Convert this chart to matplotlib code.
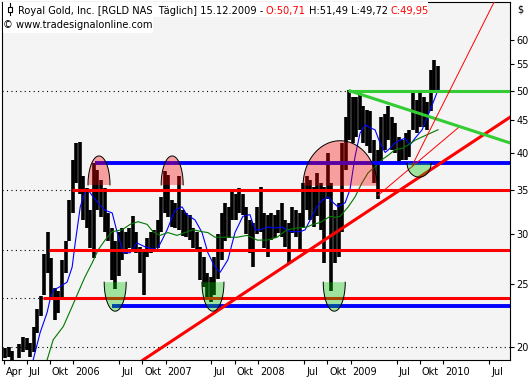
import numpy as np
import pandas as pd
import matplotlib
matplotlib.use('Agg')
import matplotlib.pyplot as plt
import matplotlib.dates as mdates
import matplotlib.transforms as mtransforms
from matplotlib.patches import Polygon, Rectangle
from matplotlib.lines import Line2D

# price bars, one bar per two weeks (high / low)
bar_dates = pd.date_range('2005-04-08', periods=123, freq='14D')
highs = [19.9, 20.0, 19.7, 19.1, 20.2, 20.7, 20.6, 20.3, 21.5, 22.9,
         24.0, 27.9, 30.2, 27.5, 24.7, 24.4, 27.3, 29.2, 33.8, 39.1,
         41.5, 41.7, 36.8, 35.3, 32.6, 38.6, 37.7, 36.4, 35.3, 32.3,
         30.6, 29.2, 30.2, 30.6, 30.2, 30.6, 31.9, 30.2, 28.6, 28.3,
         29.5, 30.2, 30.4, 31.5, 34.2, 37.5, 37.0, 33.8, 33.5, 36.8,
         32.6, 32.3, 32.0, 30.6, 30.2, 28.6, 27.6, 26.0, 25.7, 27.6,
         30.0, 32.3, 33.5, 33.0, 34.9, 34.5, 35.3, 34.5, 33.0, 31.5,
         31.1, 33.0, 35.4, 32.3, 32.0, 32.3, 32.0, 32.6, 33.5, 31.5,
         31.2, 33.0, 32.6, 32.3, 36.0, 36.8, 36.4, 35.4, 37.3, 36.0,
         35.5, 40.0, 36.0, 32.6, 33.5, 41.5, 45.5, 50.2, 49.0, 49.0,
         49.8, 47.3, 46.7, 46.6, 42.0, 40.4, 45.5, 46.0, 47.3, 45.5,
         44.5, 42.4, 42.0, 43.0, 43.5, 49.8, 48.4, 49.8, 49.0, 48.0,
         53.9, 55.9, 54.6]
lows = [19.2, 19.3, 19.1, 18.7, 19.2, 19.6, 19.8, 19.3, 19.6, 21.0,
        22.3, 24.1, 26.0, 23.8, 22.0, 22.6, 23.8, 26.0, 29.2, 32.3,
        36.0, 34.5, 31.5, 30.6, 28.5, 27.5, 32.6, 31.8, 30.2, 29.2,
        25.4, 24.6, 25.8, 27.3, 27.9, 28.5, 28.2, 28.0, 26.0, 24.1,
        27.6, 28.0, 28.3, 28.5, 30.2, 32.3, 31.8, 30.7, 30.6, 30.4,
        29.7, 29.6, 29.3, 28.5, 28.2, 25.4, 24.8, 23.9, 23.5, 24.1,
        25.5, 27.3, 29.2, 29.5, 31.5, 31.5, 32.3, 32.0, 29.9, 28.0,
        26.6, 29.9, 30.2, 28.5, 27.6, 29.3, 29.5, 30.1, 29.6, 28.6,
        27.0, 30.1, 29.6, 28.3, 30.6, 32.6, 31.5, 30.7, 31.9, 30.4,
        27.0, 34.0, 24.4, 27.0, 27.6, 30.2, 37.7, 42.0, 41.5, 42.4,
        43.4, 41.5, 41.0, 40.0, 36.0, 34.0, 38.6, 40.5, 41.9, 40.5,
        40.0, 38.6, 39.0, 39.1, 39.5, 43.4, 43.0, 43.9, 43.9, 43.4,
        46.6, 50.2, 49.7]

# moving averages
ma_fast_dates = ['2005-07-27', '2005-08-23', '2005-09-20', '2005-10-02', '2005-10-14', '2005-11-02',
                 '2005-12-08', '2005-12-28', '2006-01-09', '2006-01-29', '2006-02-17', '2006-03-01',
                 '2006-03-21', '2006-04-17', '2006-05-07', '2006-06-04', '2006-06-24', '2006-07-18',
                 '2006-08-14', '2006-09-10', '2006-10-12', '2006-11-28', '2006-12-18', '2007-01-07',
                 '2007-02-07', '2007-03-07', '2007-03-26', '2007-04-27', '2007-05-25', '2007-06-17',
                 '2007-07-15', '2007-08-04', '2007-09-04', '2007-10-02', '2007-11-02', '2007-11-30',
                 '2007-12-20', '2008-01-08', '2008-02-09', '2008-03-08', '2008-04-05', '2008-05-07',
                 '2008-06-15', '2008-07-05', '2008-07-25', '2008-08-21', '2008-09-10', '2008-10-04',
                 '2008-10-24', '2008-11-12', '2008-12-10', '2008-12-29', '2009-01-18', '2009-02-07',
                 '2009-02-27', '2009-03-19', '2009-04-07', '2009-04-27', '2009-05-17', '2009-06-05',
                 '2009-06-25', '2009-07-15', '2009-08-03', '2009-08-23', '2009-09-12', '2009-10-10',
                 '2009-11-11', '2009-12-12']
ma_fast = [19.07, 21.0, 22.6, 23.7, 24.5, 24.7,
           25.2, 26.6, 29.0, 33.0, 34.9, 35.1,
           34.2, 33.2, 32.6, 32.3, 30.1, 28.0,
           28.0, 29.0, 28.6, 28.3, 29.3, 30.4,
           32.6, 33.0, 32.1, 31.5, 30.1, 28.0,
           26.6, 26.1, 27.3, 30.1, 31.9, 32.1,
           30.4, 30.4, 30.7, 30.6, 30.7, 30.2,
           30.2, 30.4, 31.5, 33.0, 33.8, 34.2,
           33.5, 33.0, 33.5, 35.1, 39.5, 43.0,
           44.3, 43.8, 43.5, 41.5, 40.1, 40.7,
           41.5, 41.9, 42.2, 41.2, 42.2, 43.5,
           46.7, 50.2]
ma_slow_dates = ['2005-09-20', '2005-10-14', '2005-11-23', '2005-12-28', '2006-01-21', '2006-02-17',
                 '2006-03-17', '2006-04-10', '2006-05-07', '2006-06-04', '2006-07-13', '2006-08-14',
                 '2006-09-14', '2006-10-20', '2006-11-12', '2006-12-10', '2007-01-10', '2007-02-15',
                 '2007-03-18', '2007-04-19', '2007-05-25', '2007-06-17', '2007-07-15', '2007-08-15',
                 '2007-10-10', '2007-11-19', '2007-12-29', '2008-02-06', '2008-03-16', '2008-04-24',
                 '2008-06-03', '2008-07-12', '2008-08-05', '2008-09-02', '2008-10-12', '2008-10-31',
                 '2008-11-20', '2008-12-22', '2009-01-18', '2009-02-15', '2009-03-11', '2009-04-07',
                 '2009-05-05', '2009-05-29', '2009-06-25', '2009-07-23', '2009-08-16', '2009-09-12',
                 '2009-10-10', '2009-12-12']
ma_slow = [19.07, 20.5, 21.5, 23.1, 24.3, 25.7,
           27.0, 28.3, 29.3, 30.2, 30.4, 31.0,
           31.3, 31.0, 30.2, 29.8, 30.1, 29.8,
           30.1, 30.4, 30.2, 30.1, 29.6, 29.6,
           29.6, 29.8, 29.3, 29.3, 29.6, 30.4,
           30.6, 30.7, 31.0, 31.2, 31.9, 31.8,
           31.9, 33.0, 34.2, 36.0, 37.3, 38.1,
           39.1, 39.7, 40.5, 40.7, 41.2, 41.9,
           42.4, 43.5]

# horizontal lines: level and start date
red_levels = [35.06, 28.28, 23.77]
red_starts = ['2005-12-28', '2005-09-28', '2005-09-04']
blue_levels = [38.6, 23.15]
blue_starts = ['2006-03-28', '2006-06-04']
green_level = 50.0
green_start = '2008-12-29'
base_level = 20.0

# trend lines (dates, prices)
trend_up_dates = ['2006-10-04', '2010-09-22']
trend_up = [19.07, 45.5]
trend_down_dates = ['2008-12-29', '2010-09-22']
trend_down = [50.0, 41.5]
fan_flat_dates = ['2009-04-19', '2010-03-01']
fan_flat = [34.4, 43.8]
fan_steep_dates = ['2009-09-01', '2010-07-25']
fan_steep = [38.3, 69.2]

# top / bottom markers: centre date and price of the flat side
top_dates = ['2006-04-13', '2007-01-27', '2008-11-20']
top_prices = [35.7, 35.7, 35.6]
bottom_dates = ['2006-06-16', '2007-07-07', '2008-10-28', '2009-09-28']
bottom_prices = [25.2, 25.2, 25.2, 38.6]

tick_dates = ['2005-04-01', '2005-07-01', '2005-10-01', '2006-01-01', '2006-07-01', '2006-10-01',
              '2007-01-01', '2007-07-01', '2007-10-01', '2008-01-01', '2008-07-01', '2008-10-01',
              '2009-01-01', '2009-07-01', '2009-10-01', '2010-01-01', '2010-07-01']
tick_labels = ['Apr', 'Jul', 'Okt', '2006', 'Jul', 'Okt', '2007', 'Jul', 'Okt', '2008',
               'Jul', 'Okt', '2009', 'Jul', 'Okt', '2010', 'Jul']
y_ticks = [20, 25, 30, 35, 40, 45, 50, 55, 60]


def d(s):
    return mdates.date2num(pd.to_datetime(s))


fig = plt.figure(figsize=(5.32, 3.8), dpi=100)
ax = fig.add_axes([2 / 532, 20 / 380, 508 / 532, 358 / 380])
ax.set_facecolor('#F4F4F4')
ax.set_yscale('log')
x0, x1 = d('2005-03-26'), d('2010-09-22')

dots = (0, (1, 3))
# dotted extensions
ax.plot([x0, x1], [base_level, base_level], color='black', lw=0.8, ls=dots, zorder=1)
for lvl, st in zip(red_levels, red_starts):
    ax.plot([x0, d(st)], [lvl, lvl], color='black', lw=0.8, ls=dots, zorder=1)
ax.plot([x0, d(green_start)], [green_level, green_level], color='black', lw=0.8, ls=dots, zorder=1)

# bars
ax.vlines(d(bar_dates), lows, highs, color='black', lw=2.6, zorder=2)

ax.plot(d(ma_fast_dates), ma_fast, color='#0000FF', lw=0.8, zorder=3)
ax.plot(d(ma_slow_dates), ma_slow, color='#007800', lw=0.8, zorder=3)

for lvl, st in zip(red_levels, red_starts):
    ax.plot([d(st), x1], [lvl, lvl], color='#FF0000', lw=2.2, zorder=4, solid_capstyle='butt')
for lvl, st in zip(blue_levels, blue_starts):
    ax.plot([d(st), x1], [lvl, lvl], color='#0000FF', lw=2.8, zorder=4, solid_capstyle='butt')
ax.plot([d(green_start), x1], [green_level, green_level], color='#33CC33', lw=2.2, zorder=4)

ax.plot(d(trend_up_dates), trend_up, color='#FF0000', lw=2.2, zorder=4)
ax.plot(d(trend_down_dates), trend_down, color='#33CC33', lw=2.2, zorder=4)
ax.plot(d(fan_flat_dates), fan_flat, color='#FF0000', lw=0.7, zorder=4)
ax.plot(d(fan_steep_dates), fan_steep, color='#FF0000', lw=0.7, zorder=4)

ax.set_xlim(x0, x1)
ax.set_ylim(19.07, 68.75)


def half_ellipse(date, price, rx, ry, sign, color):
    t = np.linspace(0, np.pi, 80)
    pts = np.column_stack([rx * np.cos(t), sign * ry * np.sin(t)]) / fig.dpi
    trans = fig.dpi_scale_trans + mtransforms.ScaledTranslation(d(date), price, ax.transData)
    ax.add_patch(Polygon(pts, closed=True, transform=trans, facecolor=color,
                         alpha=0.35, edgecolor='none', zorder=6))
    ax.add_line(Line2D(pts[:, 0], pts[:, 1], transform=trans, color='black', lw=0.7, zorder=6))


top_rx = [11, 11, 37]
top_ry = [29, 29, 45]
for dt_, pr, rx, ry in zip(top_dates, top_prices, top_rx, top_ry):
    half_ellipse(dt_, pr, rx, ry, 1, '#FF0000')
bot_rx = [11, 11, 11, 12]
bot_ry = [29, 29, 29, 14]
for dt_, pr, rx, ry in zip(bottom_dates, bottom_prices, bot_rx, bot_ry):
    half_ellipse(dt_, pr, rx, ry, -1, '#00C800')

ax.set_xlim(x0, x1)
ax.set_ylim(19.07, 68.75)

# axes / ticks
for sp in ax.spines.values():
    sp.set_color('black')
    sp.set_linewidth(0.8)
ax.yaxis.tick_right()
ax.set_yticks(y_ticks)
ax.set_yticklabels([str(v) for v in y_ticks])
ax.yaxis.set_minor_locator(matplotlib.ticker.NullLocator())
ax.tick_params(axis='y', which='major', length=3, width=0.8, pad=1.5, labelsize=7, direction='out')
ax.set_xticks(d(tick_dates))
ax.set_xticklabels([''] * len(tick_dates))
ax.tick_params(axis='x', length=3, width=0.8, direction='out')
lab_trans = mtransforms.offset_copy(ax.get_xaxis_transform(), fig=fig, x=2, y=-12, units='dots')
for td, tl in zip(tick_dates, tick_labels):
    ax.text(d(td), 0, tl, transform=lab_trans, fontsize=7, ha='left', va='center', clip_on=False)

fig.text(517 / 532, 1 - 10 / 380, '$', fontsize=7, ha='left', va='center')

# header
fig.add_artist(Rectangle((3 / 532, 1 - 17 / 380), 425 / 532, 15 / 380,
                         transform=fig.transFigure, facecolor='white', edgecolor='none', zorder=1))
fig.add_artist(Rectangle((3 / 532, 1 - 33 / 380), 150 / 532, 16 / 380,
                         transform=fig.transFigure, facecolor='white', edgecolor='none', zorder=1))
fig.add_artist(Line2D([10 / 532, 10 / 532], [1 - 15 / 380, 1 - 3 / 380],
                      transform=fig.transFigure, color='black', lw=0.8, zorder=2))
fig.add_artist(Rectangle((8 / 532, 1 - 12 / 380), 4 / 532, 5 / 380, transform=fig.transFigure,
                         facecolor='white', edgecolor='black', lw=0.8, zorder=2))

hfs = 7.1
t = fig.text(18 / 532, 1 - 14 / 380, 'Royal Gold, Inc. [RGLD NAS  Täglich] 15.12.2009 - ',
             fontsize=hfs, ha='left', va='baseline', zorder=3)
for txt, col in [('O:50,71 ', 'red'), ('H:51,49 L:49,72 ', 'black'), ('C:49,95', 'red')]:
    t = fig.add_artist(matplotlib.text.Annotation(txt, xy=(1, 0), xycoords=t, va='bottom',
                                                  ha='left', fontsize=hfs, color=col, zorder=3))
fig.text(3 / 532, 1 - 25 / 380, '\u00a9 www.tradesignalonline.com', fontsize=hfs,
         ha='left', va='center', zorder=3)

fig.savefig('out.png', dpi=100)
